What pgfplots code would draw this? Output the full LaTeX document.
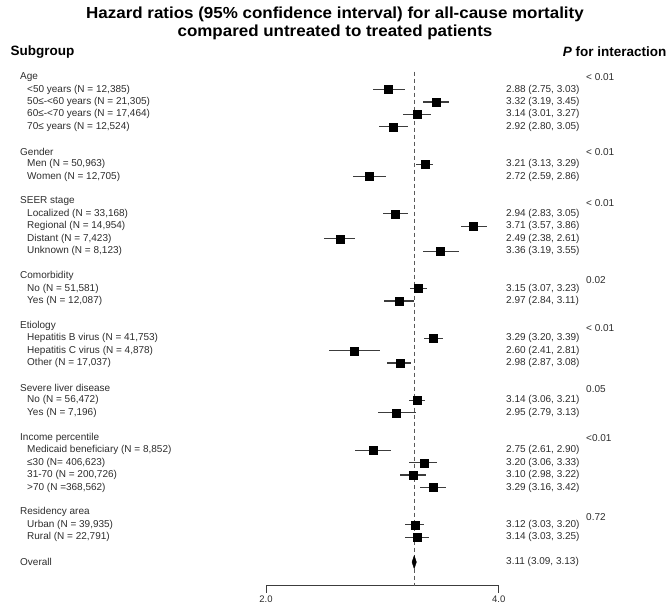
\documentclass[border=0pt]{standalone}
\usepackage{pgfplots}
\pgfplotsset{compat=1.18}
\usepackage{pgfplotstable}
\usepackage{fontspec}
\setmainfont{Liberation Sans}
\definecolor{txt}{RGB}{45,45,45}
\definecolor{ci}{RGB}{60,60,60}

\pgfplotstableread{
row hr lo hi
1 2.88 2.75 3.03
2 3.32 3.19 3.45
3 3.14 3.01 3.27
4 2.92 2.80 3.05
7 3.21 3.13 3.29
8 2.72 2.59 2.86
11 2.94 2.83 3.05
12 3.71 3.57 3.86
13 2.49 2.38 2.61
14 3.36 3.19 3.55
17 3.15 3.07 3.23
18 2.97 2.84 3.11
21 3.29 3.20 3.39
22 2.60 2.41 2.81
23 2.98 2.87 3.08
26 3.14 3.06 3.21
27 2.95 2.79 3.13
30 2.75 2.61 2.90
31 3.20 3.06 3.33
32 3.10 2.98 3.22
33 3.29 3.16 3.42
36 3.12 3.03 3.20
37 3.14 3.03 3.25
}\hrdata

\newcommand{\ry}[1]{-77.04pt-12.437pt*(#1)}
\newcommand{\rowfont}{\fontsize{10}{12}\selectfont}

\begin{document}
\begin{tikzpicture}
\begin{axis}[
  at={(266pt,-585.7pt)}, anchor=south west,
  scale only axis, width=232.7pt, height=514pt,
  xmode=log, xmin=2, xmax=4, ymin=-40.9, ymax=0.43,
  axis x line*=bottom, axis y line=none,
  xtick={2,4}, xticklabels={2.0,4.0}, xminorticks=false,
  tick align=outside, major tick length=7pt,
  x axis line style={ci, line width=0.9pt},
  tick style={ci, line width=0.9pt},
  ticklabel style={font=\fontsize{9.5}{11}\selectfont, text=txt},
  /pgf/number format/assume math mode=true,
  clip=false,
]
\addplot[draw=gray!70!black, line width=0.9pt, dash pattern=on 4pt off 3pt, forget plot]
  coordinates {(3.11,0.43) (3.11,-40.9)};
\addplot[only marks, mark=none, forget plot,
  error bars/.cd, x dir=both, x explicit, error mark=none,
  error bar style={draw=ci, solid, line width=1.2pt}]
  table[x=hr, y expr=-\thisrow{row},
        x error plus expr=\thisrow{hi}-\thisrow{hr},
        x error minus expr=\thisrow{hr}-\thisrow{lo}] {\hrdata};
\addplot[only marks, mark=square*, mark size=4,
  mark options={fill=black, draw=black, line width=0.1pt}]
  table[x=hr, y expr=-\thisrow{row}] {\hrdata};
\addplot[fill=black, draw=black, line width=0.4pt]
  coordinates {(3.09,-39) (3.11,-38.48) (3.13,-39) (3.11,-39.52) (3.09,-39)};
\end{axis}

% titles
\node[font=\fontsize{16}{18}\selectfont\bfseries, text=black] at (335pt,-14pt)
  {\scalebox{1.06}[1]{Hazard ratios (95\% confidence interval) for all-cause mortality}};
\node[font=\fontsize{16}{18}\selectfont\bfseries, text=black] at (335pt,-32pt)
  {\scalebox{1.06}[1]{compared untreated to treated patients}};
\node[anchor=west, font=\fontsize{13.5}{15}\selectfont\bfseries] at (7pt,-52pt) {Subgroup};
\node[anchor=east, font=\fontsize{13.5}{15}\selectfont\bfseries] at (670pt,-52pt) {\textit{P} for interaction};

% group headers
\foreach \r/\t in {0/Age, 6/Gender, 10/{SEER stage}, 16/Comorbidity, 20/Etiology,
  25/{Severe liver disease}, 29/{Income percentile}, 35/{Residency area}, 39/Overall}
  \node[anchor=west, font=\rowfont, text=txt, inner sep=0pt] at (20pt,{\ry{\r}}) {\t};

% sub rows
\foreach \r/\t in {1/{<50 years (N = 12,385)}, 2/{50≤-<60 years (N = 21,305)},
  3/{60≤-<70 years (N = 17,464)}, 4/{70≤ years (N = 12,524)},
  7/{Men (N = 50,963)}, 8/{Women (N = 12,705)},
  11/{Localized (N = 33,168)}, 12/{Regional (N = 14,954)}, 13/{Distant (N = 7,423)}, 14/{Unknown (N = 8,123)},
  17/{No (N = 51,581)}, 18/{Yes (N = 12,087)},
  21/{Hepatitis B virus (N = 41,753)}, 22/{Hepatitis C virus (N = 4,878)}, 23/{Other (N = 17,037)},
  26/{No (N = 56,472)}, 27/{Yes (N = 7,196)},
  30/{Medicaid beneficiary (N = 8,852)}, 31/{≤30 (N= 406,623)}, 32/{31-70 (N = 200,726)}, 33/{>70 (N =368,562)},
  36/{Urban (N = 39,935)}, 37/{Rural (N = 22,791)}}
  \node[anchor=west, font=\rowfont, text=txt, inner sep=0pt] at (27pt,{\ry{\r}}) {\t};

% HR text
\foreach \r/\t in {1/{2.88 (2.75, 3.03)}, 2/{3.32 (3.19, 3.45)}, 3/{3.14 (3.01, 3.27)}, 4/{2.92 (2.80, 3.05)},
  7/{3.21 (3.13, 3.29)}, 8/{2.72 (2.59, 2.86)},
  11/{2.94 (2.83, 3.05)}, 12/{3.71 (3.57, 3.86)}, 13/{2.49 (2.38, 2.61)}, 14/{3.36 (3.19, 3.55)},
  17/{3.15 (3.07, 3.23)}, 18/{2.97 (2.84, 3.11)},
  21/{3.29 (3.20, 3.39)}, 22/{2.60 (2.41, 2.81)}, 23/{2.98 (2.87, 3.08)},
  26/{3.14 (3.06, 3.21)}, 27/{2.95 (2.79, 3.13)},
  30/{2.75 (2.61, 2.90)}, 31/{3.20 (3.06, 3.33)}, 32/{3.10 (2.98, 3.22)}, 33/{3.29 (3.16, 3.42)},
  36/{3.12 (3.03, 3.20)}, 37/{3.14 (3.03, 3.25)}, 39/{3.11 (3.09, 3.13)}}
  \node[anchor=west, font=\rowfont, text=txt, inner sep=0pt] at (506pt,{\ry{\r}}) {\t};

% P values
\foreach \r/\t in {0/{< 0.01}, 6/{< 0.01}, 10.1/{< 0.01}, 16.3/{0.02}, 20.2/{< 0.01},
  25.1/{0.05}, 29/{<0.01}, 35.35/{0.72}}
  \node[anchor=west, font=\rowfont, text=txt, inner sep=0pt] at (586pt,{\ry{\r}}) {\t};

\pgfresetboundingbox
\path (0pt,0pt) rectangle (671pt,-609pt);
\end{tikzpicture}
\end{document}
